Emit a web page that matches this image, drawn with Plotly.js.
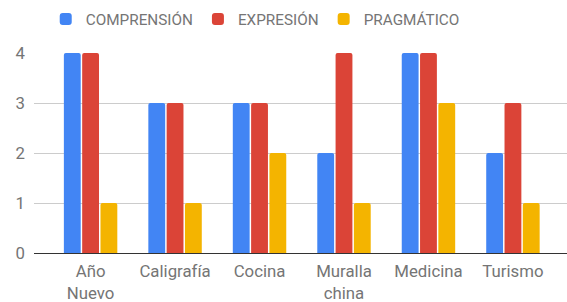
<!DOCTYPE html>
<html><head><meta charset="utf-8">
<script src="https://cdn.plot.ly/plotly-3.0.1.min.js"></script>
<style>body{margin:0;background:#fff}#c{width:567px;height:302px}</style>
</head><body><div id="c"></div>
<script>
const categories = ["Año<br>Nuevo", "Caligrafía", "Cocina", "Muralla<br>china", "Medicina", "Turismo"];
const seriesNames = ["COMPRENSIÓN", "EXPRESIÓN", "PRAGMÁTICO"];
const comprension = [4, 3, 3, 2, 4, 2];
const expresion = [4, 3, 3, 4, 4, 3];
const pragmatico = [1, 1, 2, 1, 3, 1];
const colors = ["#4285F4", "#DB4437", "#F4B400"];
const yTicks = [0, 1, 2, 3, 4];

const idx = categories.map((_, i) => i);
const traces = [comprension, expresion, pragmatico].map((vals, k) => ({
  type: "bar", x: idx, y: vals, name: seriesNames[k],
  marker: {color: colors[k], cornerradius: 2},
  hoverinfo: "skip"
}));

const layout = {
  width: 567, height: 302,
  margin: {l: 34, r: 0, t: 53, b: 49},
  paper_bgcolor: "#fff", plot_bgcolor: "#fff",
  font: {family: "Roboto, sans-serif", size: 16, color: "#757575"},
  barmode: "group", bargap: 0.35, bargroupgap: 0.08,
  showlegend: true,
  legend: {orientation: "h", x: 0.022, xanchor: "left", y: 1.17, yanchor: "middle",
           font: {size: 15.3, color: "#757575"}, itemwidth: 30, traceorder: "normal"},
  xaxis: {range: [-0.67, 5.64], tickvals: idx, ticktext: categories,
          showgrid: false, zeroline: false, showline: false, ticks: "",
          ticklabelstandoff: 6,
          tickfont: {size: 16.8, color: "#757575"}, fixedrange: true},
  yaxis: {range: [0, 4], tickvals: yTicks, ticktext: yTicks.map(String),
          showgrid: true, gridcolor: "#cccccc", gridwidth: 1,
          zeroline: true, zerolinecolor: "#333333", zerolinewidth: 1,
          showline: false, ticks: "", ticklabelstandoff: 8,
          tickfont: {size: 16.8, color: "#757575"}, fixedrange: true}
};
Plotly.newPlot("c", traces, layout, {displayModeBar: false, staticPlot: true});
</script></body></html>
